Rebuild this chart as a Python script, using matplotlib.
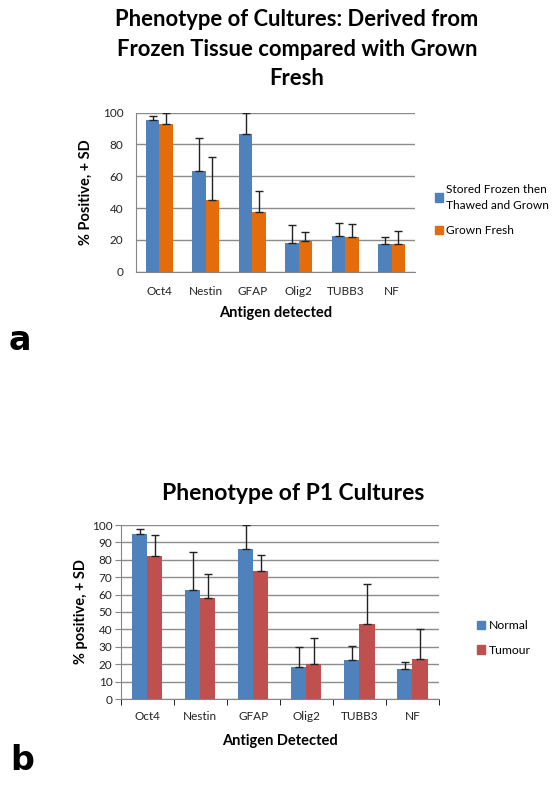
import numpy as np
import matplotlib.pyplot as plt
from matplotlib.patches import Patch

# data
antigens = ['Oct4', 'Nestin', 'GFAP', 'Olig2', 'TUBB3', 'NF']

frozen = [95.4, 63.5, 86.4, 17.9, 22.6, 17.5]
frozen_sd = [2.7, 20.8, 13.6, 11.6, 7.9, 4.2]
fresh = [92.9, 45.1, 37.7, 19.6, 22.1, 17.5]
fresh_sd = [7.1, 27.2, 13.2, 5.2, 7.8, 8.4]

normal = [94.8, 62.8, 86.1, 18.5, 22.7, 17.0]
normal_sd = [3.1, 21.4, 13.9, 11.3, 7.8, 4.0]
tumour = [82.4, 58.0, 73.5, 20.2, 43.1, 22.9]
tumour_sd = [12.1, 13.6, 9.5, 14.9, 23.1, 17.2]

blue = '#4F81BD'
orange = '#E46C0A'
red = '#C0504D'
grid_col = '#8C8C8C'

W, H = 556, 790
FONT = ['Lato', 'DejaVu Sans']
plt.rcParams['font.family'] = FONT


def px(x, y):
    return x / W, 1 - y / H


def box(x0, y0, x1, y1):
    return [x0 / W, 1 - y1 / H, (x1 - x0) / W, (y1 - y0) / H]


def bar_panel(ax, s1, e1, s2, e2, c1, c2, step, ticks):
    x = np.arange(len(antigens))
    w = 0.285
    ax.bar(x - w / 2, s1, w, color=c1, zorder=2)
    ax.bar(x + w / 2, s2, w, color=c2, zorder=2)
    ax.errorbar(x - w / 2, s1, yerr=[np.zeros(len(s1)), e1], fmt='none',
                ecolor='#222222', elinewidth=1, capsize=3, capthick=1, zorder=3)
    ax.errorbar(x + w / 2, s2, yerr=[np.zeros(len(s2)), e2], fmt='none',
                ecolor='#222222', elinewidth=1, capsize=3, capthick=1, zorder=3)
    ax.set_xlim(-0.5, len(antigens) - 0.5)
    ax.set_ylim(0, 100)
    ax.set_yticks(np.arange(0, 101, step))
    ax.yaxis.grid(True, color=grid_col, linewidth=1)
    ax.set_axisbelow(True)
    ax.set_xticks(x)
    ax.set_xticklabels(antigens)
    for s in ['top', 'right']:
        ax.spines[s].set_visible(False)
    for s in ['left', 'bottom']:
        ax.spines[s].set_color('#868686')
    ax.tick_params(axis='both', labelsize=8.5, colors='#868686', labelcolor='#222222')
    if ticks:
        ax.set_xticks(np.arange(-0.5, len(antigens)), minor=True)
        ax.tick_params(axis='x', which='major', length=0, pad=9)
        ax.tick_params(axis='x', which='minor', length=4, direction='out')
        ax.tick_params(axis='y', length=4, direction='out', pad=2)
    else:
        ax.tick_params(axis='x', length=0, pad=10)
        ax.tick_params(axis='y', length=0, pad=9)


fig = plt.figure(figsize=(W / 100, H / 100), dpi=100)

# panel a
ax1 = fig.add_axes(box(136, 112.7, 415, 271.7))
bar_panel(ax1, frozen, frozen_sd, fresh, fresh_sd, blue, orange, 20, False)
ax1.set_xlabel('Antigen detected', fontsize=10.5, fontweight='bold', labelpad=7)
ax1.set_ylabel('% Positive, + SD', fontsize=10.5, fontweight='bold', labelpad=7)
fig.text(*px(297, 49), 'Phenotype of Cultures: Derived from\nFrozen Tissue compared with Grown\nFresh',
         ha='center', va='center', fontsize=15.8, fontweight='bold', linespacing=1.5)
leg = fig.legend(handles=[Patch(color=blue, label='Stored Frozen then\nThawed and Grown'),
                          Patch(color=orange, label='Grown Fresh')],
                 loc='center left', bbox_to_anchor=px(430, 210), frameon=False, fontsize=8.6,
                 handlelength=0.7, handleheight=0.7, handletextpad=0.25, labelspacing=1.25,
                 borderaxespad=0)
for t in leg.get_texts():
    t.set_linespacing(1.55)
fig.text(*px(20, 340), 'a', ha='center', va='center', fontsize=24, fontweight='bold',
         family=['Liberation Sans Narrow', 'DejaVu Sans'])

# panel b
ax2 = fig.add_axes(box(120.7, 525, 439, 699))
bar_panel(ax2, normal, normal_sd, tumour, tumour_sd, blue, red, 10, True)
ax2.set_xlabel('Antigen Detected', fontsize=10.5, fontweight='bold', labelpad=8)
ax2.set_ylabel('% positive, + SD', fontsize=10.5, fontweight='bold', labelpad=3)
fig.text(*px(293, 493), 'Phenotype of P1 Cultures', ha='center', va='center',
         fontsize=16.5, fontweight='bold')
fig.legend(handles=[Patch(color=blue, label='Normal'), Patch(color=red, label='Tumour')],
           loc='center left', bbox_to_anchor=px(472, 638), frameon=False, fontsize=8.8,
           handlelength=0.7, handleheight=0.7, handletextpad=0.25, labelspacing=1.1,
           borderaxespad=0)
fig.text(*px(22, 760), 'b', ha='center', va='center', fontsize=24, fontweight='bold',
         family=['Liberation Sans Narrow', 'DejaVu Sans'])

fig.savefig('out.png', dpi=100)
